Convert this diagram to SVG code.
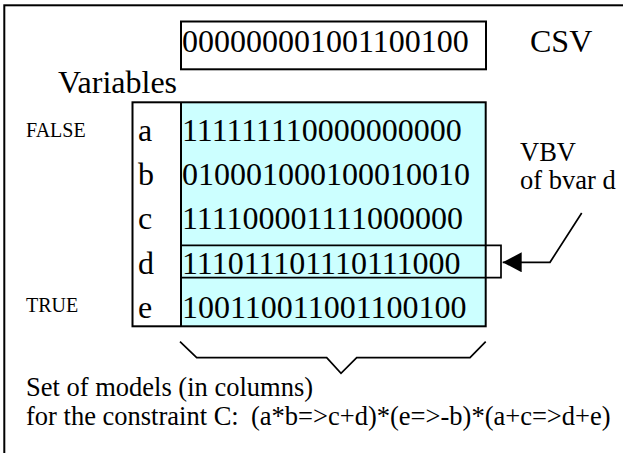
<svg xmlns="http://www.w3.org/2000/svg" width="623" height="453" viewBox="0 0 623 453">
<style>
.t{fill:#000}
.big{font-size:32px}
.mid{font-size:26.5px}
.sm{font-size:20px}
.ln{fill:none;stroke:#000}
</style>
<defs>
<marker id="ah" markerWidth="20" markerHeight="20" refX="19" refY="10" orient="auto" markerUnits="userSpaceOnUse" viewBox="0 0 20 20">
<path d="M0,0 L19,10 L0,20 Z" fill="#000"/>
</marker>
</defs>
<rect width="623" height="453" fill="#fff"/>
<g id="frame"><rect x="4.3" y="5.3" width="700" height="500" class="ln" stroke-width="2"/></g>
<g font-family="'Liberation Serif', 'Times New Roman', 'DejaVu Serif', serif">
<g id="csv">
<rect x="181" y="21.5" width="305" height="47.8" class="ln" stroke-width="2"/>
<text class="t big" x="182" y="52.3">000000001001100100</text>
<text class="t big" x="530" y="52.3">CSV</text>
</g>
<g id="variables-label"><text class="t big" x="58" y="93">Variables</text></g>
<g id="truth-labels">
<text class="t sm" x="26" y="136.7">FALSE</text>
<text class="t sm" x="26" y="311.7">TRUE</text>
</g>
<g id="table">
<rect x="181" y="102.3" width="304.7" height="224" fill="#ccffff"/>
<rect x="132.5" y="102.3" width="353.2" height="224" class="ln" stroke-width="2"/>
<line x1="181" y1="102.3" x2="181" y2="326.3" class="ln" stroke-width="2"/>
<text class="t big" x="138" y="140.7">a</text>
<text class="t big" x="138" y="185">b</text>
<text class="t big" x="138" y="229.2">c</text>
<text class="t big" x="138" y="273.5">d</text>
<text class="t big" x="138" y="317.8">e</text>
<text class="t big" x="182" y="140.7">111111110000000000</text>
<text class="t big" x="182" y="185">010001000100010010</text>
<text class="t big" x="182" y="229.2">111100001111000000</text>
<text class="t big" x="182" y="273.5">111011101110111000</text>
<text class="t big" x="182" y="317.8">100110011001100100</text>
</g>
<g id="vbv-d">
<path d="M181,245.3 H501 V277.7 H181" class="ln" stroke-width="1.7"/>
</g>
<g id="vbv-label">
<text class="t mid" x="520" y="161">VBV</text>
<text class="t mid" x="520" y="189">of bvar d</text>
</g>
<g id="models-label">
<text class="t mid" x="26" y="396">Set of models (in columns)</text>
<text class="t mid" x="26" y="425">for the constraint C:<tspan x="251">(a*b=&gt;c+d)*(e=&gt;-b)*(a+c=&gt;d+e)</tspan></text>
</g>
</g>
<g id="connectors">
<path d="M581.7,213 L550,262.3 L502.7,262.3" class="ln" stroke-width="1.7" marker-end="url(#ah)"/>
<path d="M180,341.7 L196.7,357.7 L326.7,357.7 L341,373.3 L356.7,357.7 L470,357.7 L485.7,341.7" class="ln" stroke-width="1.7"/>
</g>
</svg>
